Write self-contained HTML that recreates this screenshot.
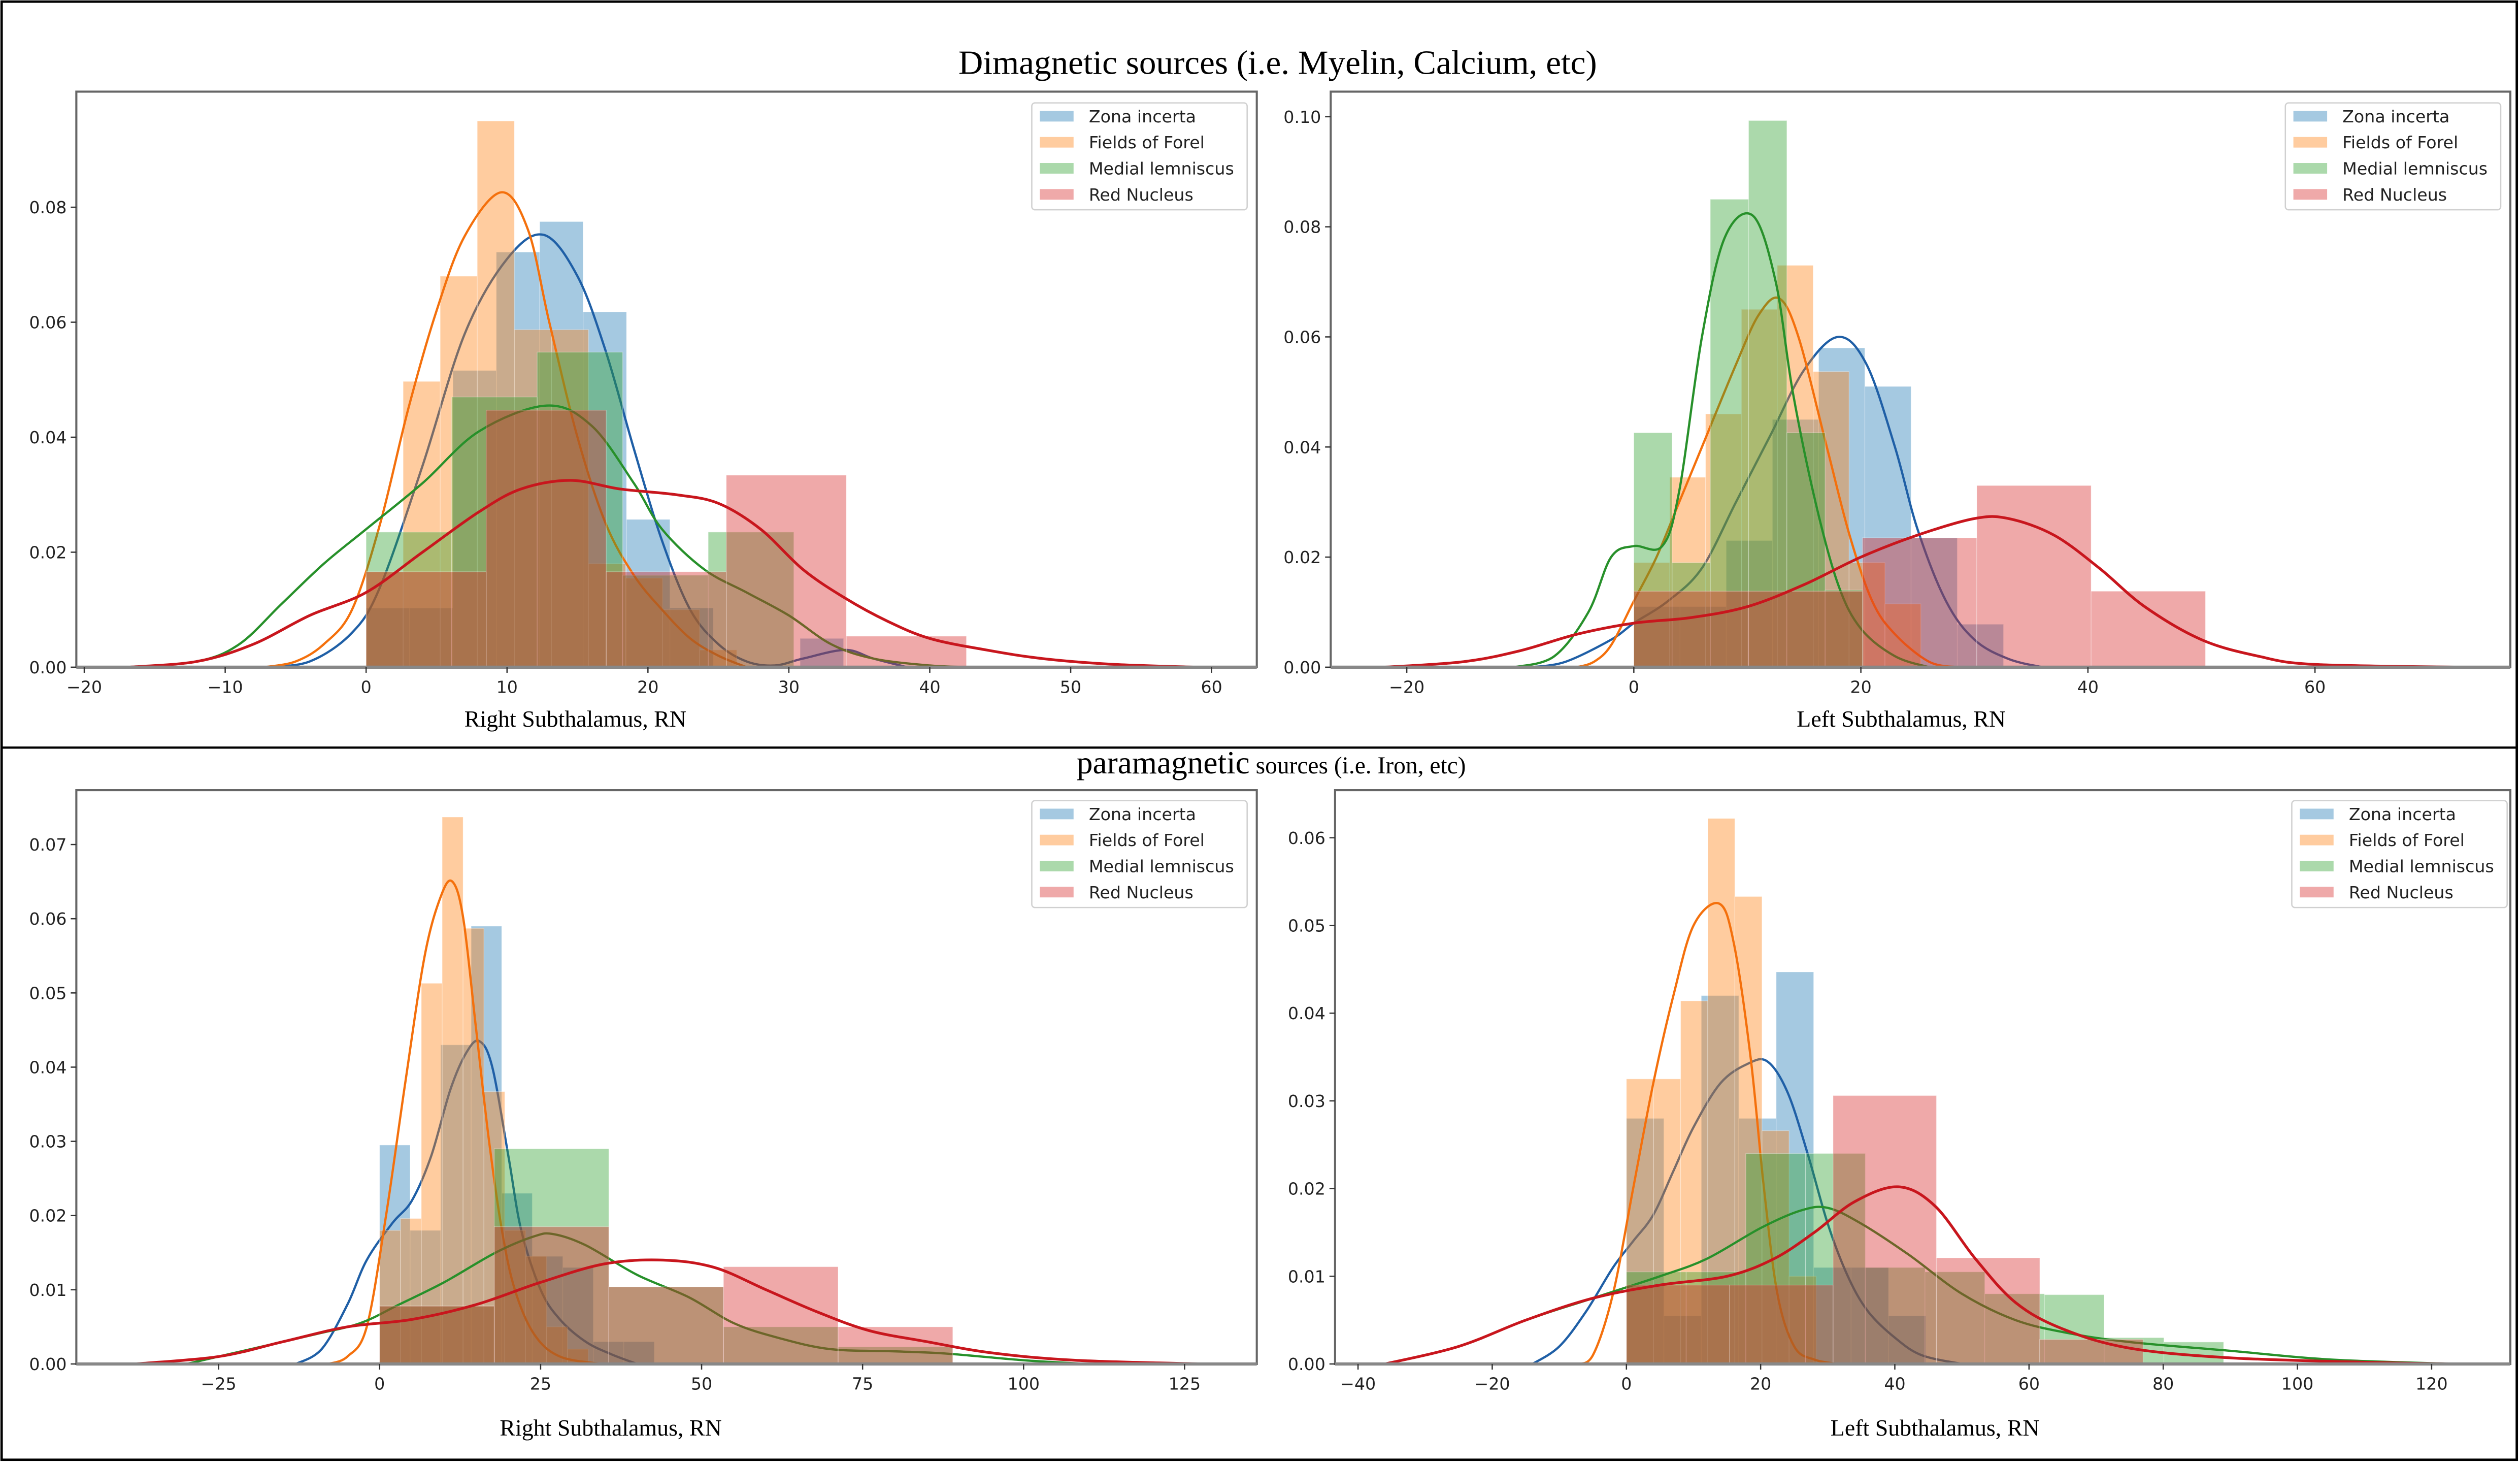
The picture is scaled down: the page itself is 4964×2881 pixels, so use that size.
<!DOCTYPE html>
<html><head><meta charset="utf-8"><title>Subthalamus susceptibility histograms</title>
<style>
html,body{margin:0;padding:0;background:#fff;}
svg{display:block;}
.tick{font-family:"DejaVu Sans","Liberation Sans",sans-serif;font-size:10.5px;fill:#222;}
.leg{font-family:"DejaVu Sans","Liberation Sans",sans-serif;font-size:10.5px;fill:#222;}
.serif{font-family:"Liberation Serif",serif;fill:#000;}
</style></head>
<body>
<svg id="chart" xmlns="http://www.w3.org/2000/svg" width="4964" height="2881" viewBox="0 0 1568 910" preserveAspectRatio="none">
<rect x="0" y="0" width="1568" height="910" fill="#fff"/>
<rect x="1" y="1" width="1565" height="907" fill="none" stroke="#000" stroke-width="1.5"/>
<line x1="1" y1="465" x2="1566" y2="465" stroke="#000" stroke-width="1.4"/>
<text class="serif" x="795" y="46" font-size="21.2" text-anchor="middle">Dimagnetic sources (i.e. Myelin, Calcium, etc)</text>
<text class="serif" x="791" y="481" text-anchor="middle"><tspan font-size="20">paramagnetic</tspan><tspan font-size="15"> sources (i.e. Iron, etc)</tspan></text>
<g id="panels"></g>
</svg>
<script>
// ---------- Data ----------
const seriesNames = ["Zona incerta", "Fields of Forel", "Medial lemniscus", "Red Nucleus"];

// Panel 1: Right Subthalamus, RN (dimagnetic)
const p1BinStart = [0, 0, 0, 0];
const p1BinWidth = [3.08, 2.63, 6.07, 8.52];
const p1BlueHeights = [0.0103, 0.0103, 0.0516, 0.0722, 0.0775, 0.0618, 0.0257, 0.0103, 0, 0, 0.005];
const p1OrangeHeights = [0.0166, 0.0497, 0.068, 0.095, 0.0587, 0.0587, 0.018, 0.0155, 0.01, 0.003];
const p1GreenHeights = [0.0235, 0.047, 0.0548, 0.016, 0.0235];
const p1RedHeights = [0.0166, 0.0447, 0.0166, 0.0334, 0.0054];
const p1BlueKdeX = [-7.2, -4, -1, 1, 4, 7, 10, 12.6, 15, 17, 19, 21, 23, 25, 27, 29, 31, 34, 36, 38.4];
const p1BlueKdeY = [0, 0.001, 0.006, 0.014, 0.035, 0.058, 0.071, 0.0752, 0.068, 0.055, 0.038, 0.022, 0.01, 0.004, 0.001, 0.0003, 0.0015, 0.003, 0.0015, 0];
const p1OrangeKdeX = [-7.2, -5, -3, -1, 1, 3, 5, 7, 9.6, 11.5, 13, 15, 17, 19, 21, 23, 25, 27];
const p1OrangeKdeY = [0, 0.001, 0.004, 0.01, 0.025, 0.045, 0.062, 0.075, 0.0826, 0.076, 0.06, 0.04, 0.025, 0.016, 0.01, 0.005, 0.002, 0];
const p1GreenKdeX = [-16.9, -12, -9, -6, -3, 0, 4, 8, 12.8, 16, 19, 21, 24, 27, 30, 33, 36, 40, 43];
const p1GreenKdeY = [0, 0.001, 0.004, 0.011, 0.018, 0.024, 0.032, 0.041, 0.0455, 0.042, 0.032, 0.024, 0.017, 0.013, 0.009, 0.004, 0.0015, 0.0003, 0];
const p1RedKdeX = [-16.9, -12, -8, -4, 0, 4, 8, 11, 14.5, 18, 22, 25, 28, 31, 34, 37, 40, 44, 48, 53, 59];
const p1RedKdeY = [0, 0.001, 0.004, 0.009, 0.013, 0.02, 0.027, 0.031, 0.0325, 0.031, 0.03, 0.0285, 0.024, 0.017, 0.012, 0.008, 0.005, 0.003, 0.0015, 0.0005, 0];
const p1XTicks = [-20, -10, 0, 10, 20, 30, 40, 50, 60];
const p1YTicks = [0, 0.02, 0.04, 0.06, 0.08];
const p1YTickLabels = ["0.00", "0.02", "0.04", "0.06", "0.08"];

// Panel 2: Left Subthalamus, RN (dimagnetic)
const p2BinStart = [0, 0, 0, 0];
const p2BinWidth = [4.07, 3.16, 3.37, 10.07];
const p2BlueHeights = [0.011, 0.011, 0.023, 0.045, 0.058, 0.051, 0.0235, 0.0078];
const p2OrangeHeights = [0.019, 0.0345, 0.046, 0.065, 0.073, 0.0537, 0.019, 0.0115];
const p2GreenHeights = [0.0426, 0.019, 0.085, 0.0993, 0.0426, 0.014];
const p2RedHeights = [0.0138, 0.0138, 0.0235, 0.033, 0.0138];
const p2BlueKdeX = [-9, -6, -2, 0, 3, 6, 9, 12, 15, 18, 20.5, 23, 25, 27.5, 30, 33, 36];
const p2BlueKdeY = [0, 0.001, 0.005, 0.008, 0.012, 0.018, 0.03, 0.042, 0.054, 0.06, 0.055, 0.04, 0.025, 0.012, 0.005, 0.0015, 0];
const p2OrangeKdeX = [-5, -3.5, -2, 0, 2, 4, 6, 9, 11, 12.8, 14.5, 17, 19, 21, 23, 26, 28.5];
const p2OrangeKdeY = [0, 0.001, 0.004, 0.012, 0.02, 0.03, 0.04, 0.055, 0.064, 0.067, 0.06, 0.04, 0.024, 0.012, 0.006, 0.001, 0];
const p2GreenKdeX = [-10.5, -7, -4, -2, 0, 2.5, 4, 6, 8, 10.5, 12.5, 14, 16, 18, 20, 23, 26];
const p2GreenKdeY = [0, 0.002, 0.01, 0.02, 0.022, 0.022, 0.032, 0.06, 0.078, 0.082, 0.07, 0.05, 0.03, 0.015, 0.007, 0.002, 0];
const p2RedKdeX = [-22, -15, -10, -5, 0, 5, 10, 15, 20, 25, 30, 33, 37, 41, 45, 50, 55, 60, 73];
const p2RedKdeY = [0, 0.001, 0.003, 0.006, 0.008, 0.009, 0.011, 0.015, 0.02, 0.024, 0.027, 0.027, 0.024, 0.018, 0.011, 0.005, 0.002, 0.0005, 0];
const p2XTicks = [-20, 0, 20, 40, 60];
const p2YTicks = [0, 0.02, 0.04, 0.06, 0.08, 0.10];
const p2YTickLabels = ["0.00", "0.02", "0.04", "0.06", "0.08", "0.10"];

// Panel 3: Right Subthalamus, RN (paramagnetic)
const p3BinStart = [0, 0, 0, 0];
const p3BinWidth = [4.74, 3.24, 17.8, 17.8];
const p3BlueHeights = [0.0295, 0.018, 0.043, 0.059, 0.023, 0.0145, 0.013, 0.003, 0.003];
const p3OrangeHeights = [0.018, 0.0196, 0.0513, 0.0737, 0.0587, 0.0367, 0.018, 0.0145, 0.005, 0.002];
const p3GreenHeights = [0.0078, 0.029, 0.0104, 0.005, 0.0023];
const p3RedHeights = [0.0078, 0.0185, 0.0104, 0.0131, 0.005];
const p3BlueKdeX = [-13, -9, -5, -2, 2, 5, 8, 11, 13.5, 15.5, 17.5, 20, 22, 25, 28, 32, 36, 40];
const p3BlueKdeY = [0, 0.002, 0.008, 0.014, 0.019, 0.022, 0.028, 0.037, 0.042, 0.0435, 0.04, 0.028, 0.018, 0.01, 0.006, 0.003, 0.0013, 0];
const p3OrangeKdeX = [-8, -5, -2, 1, 4, 7, 9.5, 11.3, 13, 15, 17, 19, 21, 24, 28, 34.5];
const p3OrangeKdeY = [0, 0.001, 0.005, 0.02, 0.038, 0.055, 0.063, 0.065, 0.06, 0.045, 0.03, 0.018, 0.01, 0.004, 0.001, 0];
const p3GreenKdeX = [-30, -20, -10, -3, 3, 10, 18, 24, 27, 32, 40, 48, 55, 62, 70, 80, 88, 100, 110];
const p3GreenKdeY = [0, 0.002, 0.004, 0.0055, 0.008, 0.011, 0.015, 0.0172, 0.0175, 0.016, 0.012, 0.009, 0.0055, 0.0035, 0.002, 0.0017, 0.0014, 0.0005, 0];
const p3RedKdeX = [-38, -25, -15, -5, 5, 15, 25, 35, 44, 52, 60, 68, 76, 85, 95, 108, 128];
const p3RedKdeY = [0, 0.001, 0.003, 0.005, 0.006, 0.008, 0.011, 0.0135, 0.014, 0.013, 0.01, 0.007, 0.0045, 0.003, 0.0015, 0.0005, 0];
const p3XTicks = [-25, 0, 25, 50, 75, 100, 125];
const p3YTicks = [0, 0.01, 0.02, 0.03, 0.04, 0.05, 0.06, 0.07];
const p3YTickLabels = ["0.00", "0.01", "0.02", "0.03", "0.04", "0.05", "0.06", "0.07"];

// Panel 4: Left Subthalamus, RN (paramagnetic)
const p4BinStart = [0, 0, 0, 0];
const p4BinWidth = [5.58, 4.04, 8.9, 15.4];
const p4BlueHeights = [0.028, 0.0055, 0.042, 0.028, 0.0447, 0.011, 0.011, 0.0055];
const p4OrangeHeights = [0.0325, 0.0325, 0.0414, 0.0622, 0.0533, 0.0266, 0.01];
const p4GreenHeights = [0.0105, 0.0105, 0.024, 0.024, 0.011, 0.0105, 0.008, 0.0079, 0.003, 0.0025];
const p4RedHeights = [0.009, 0.009, 0.0306, 0.0121, 0.0028];
const p4BlueKdeX = [-14, -10, -6, -2, 1, 4, 7, 10, 14, 18, 21, 24, 27, 30, 33, 36, 40, 44, 50];
const p4BlueKdeY = [0, 0.002, 0.006, 0.011, 0.014, 0.017, 0.022, 0.027, 0.032, 0.0342, 0.0345, 0.031, 0.024, 0.016, 0.01, 0.006, 0.003, 0.001, 0];
const p4OrangeKdeX = [-7.5, -5, -2, 1, 4, 7, 10, 13.8, 16, 18.5, 20.5, 22.5, 25, 28, 31.6];
const p4OrangeKdeY = [0, 0.001, 0.008, 0.02, 0.032, 0.042, 0.05, 0.0525, 0.048, 0.035, 0.02, 0.008, 0.002, 0.0005, 0];
const p4GreenKdeX = [-36, -25, -15, -5, 5, 12, 20, 26, 30, 35, 42, 50, 58, 66, 75, 90, 105, 124];
const p4GreenKdeY = [0, 0.002, 0.005, 0.0075, 0.01, 0.012, 0.0155, 0.0175, 0.0178, 0.016, 0.0125, 0.008, 0.005, 0.0035, 0.0025, 0.0015, 0.0005, 0];
const p4RedKdeX = [-36, -25, -15, -5, 5, 15, 22, 28, 34, 40.5, 46, 52, 58, 65, 75, 90, 110, 124];
const p4RedKdeY = [0, 0.002, 0.005, 0.0075, 0.009, 0.01, 0.012, 0.015, 0.0185, 0.0202, 0.018, 0.012, 0.007, 0.004, 0.0018, 0.0007, 0.0002, 0];
const p4XTicks = [-40, -20, 0, 20, 40, 60, 80, 100, 120];
const p4YTicks = [0, 0.01, 0.02, 0.03, 0.04, 0.05, 0.06];
const p4YTickLabels = ["0.00", "0.01", "0.02", "0.03", "0.04", "0.05", "0.06"];

// ---------- Rendering ----------
const NS = "http://www.w3.org/2000/svg";
const colors = ["#1f77b4", "#ff7f0e", "#2ca02c", "#d62728"];
const lineColors = ["#1f5fa6", "#f4700c", "#27902a", "#c8161d"];
const root = document.getElementById("panels");

function mk(tag, attrs, parent) {
  const e = document.createElementNS(NS, tag);
  for (const k in attrs) e.setAttribute(k, attrs[k]);
  parent.appendChild(e);
  return e;
}
function smoothPath(pts) {
  let d = "M" + pts[0][0].toFixed(2) + "," + pts[0][1].toFixed(2);
  for (let i = 0; i < pts.length - 1; i++) {
    const p0 = pts[Math.max(0, i - 1)], p1 = pts[i], p2 = pts[i + 1], p3 = pts[Math.min(pts.length - 1, i + 2)];
    const c1x = p1[0] + (p2[0] - p0[0]) / 6, c1y = p1[1] + (p2[1] - p0[1]) / 6;
    const c2x = p2[0] - (p3[0] - p1[0]) / 6, c2y = p2[1] - (p3[1] - p1[1]) / 6;
    d += " C" + c1x.toFixed(2) + "," + c1y.toFixed(2) + " " + c2x.toFixed(2) + "," + c2y.toFixed(2) + " " + p2[0].toFixed(2) + "," + p2[1].toFixed(2);
  }
  return d;
}

const panels = [
  {id:"p1", box:[47.5,57,782,415], x0:227.8, xs:8.768, yTop:0.08, yTopPx:128.9,
   start:p1BinStart, width:p1BinWidth, heights:[p1BlueHeights,p1OrangeHeights,p1GreenHeights,p1RedHeights],
   kx:[p1BlueKdeX,p1OrangeKdeX,p1GreenKdeX,p1RedKdeX], ky:[p1BlueKdeY,p1OrangeKdeY,p1GreenKdeY,p1RedKdeY],
   xt:p1XTicks, yt:p1YTicks, ytl:p1YTickLabels, label:"Right Subthalamus, RN", lx:358, ly:452, leg:[642,64]},
  {id:"p2", box:[828,57,1562,415], x0:1016.6, xs:7.064, yTop:0.10, yTopPx:72.6,
   start:p2BinStart, width:p2BinWidth, heights:[p2BlueHeights,p2OrangeHeights,p2GreenHeights,p2RedHeights],
   kx:[p2BlueKdeX,p2OrangeKdeX,p2GreenKdeX,p2RedKdeX], ky:[p2BlueKdeY,p2OrangeKdeY,p2GreenKdeY,p2RedKdeY],
   xt:p2XTicks, yt:p2YTicks, ytl:p2YTickLabels, label:"Left Subthalamus, RN", lx:1183, ly:452, leg:[1422,64]},
  {id:"p3", box:[47.5,491.5,782,848.4], x0:236.2, xs:4.007, yTop:0.07, yTopPx:525.3,
   start:p3BinStart, width:p3BinWidth, heights:[p3BlueHeights,p3OrangeHeights,p3GreenHeights,p3RedHeights],
   kx:[p3BlueKdeX,p3OrangeKdeX,p3GreenKdeX,p3RedKdeX], ky:[p3BlueKdeY,p3OrangeKdeY,p3GreenKdeY,p3RedKdeY],
   xt:p3XTicks, yt:p3YTicks, ytl:p3YTickLabels, label:"Right Subthalamus, RN", lx:380, ly:893, leg:[642,498]},
  {id:"p4", box:[830.7,491.5,1562,848.4], x0:1012, xs:4.175, yTop:0.06, yTopPx:521.1,
   start:p4BinStart, width:p4BinWidth, heights:[p4BlueHeights,p4OrangeHeights,p4GreenHeights,p4RedHeights],
   kx:[p4BlueKdeX,p4OrangeKdeX,p4GreenKdeX,p4RedKdeX], ky:[p4BlueKdeY,p4OrangeKdeY,p4GreenKdeY,p4RedKdeY],
   xt:p4XTicks, yt:p4YTicks, ytl:p4YTickLabels, label:"Left Subthalamus, RN", lx:1204, ly:893, leg:[1426,498]}
];
const keys = ["zona-incerta", "fields-of-forel", "medial-lemniscus", "red-nucleus"];

panels.forEach(function (P) {
  const [L, T, R, B] = P.box;
  const xScale = v => P.x0 + v * P.xs;
  const yScale = v => B - v * (B - P.yTopPx) / P.yTop;
  const g = mk("g", {}, root);
  
  
  const clipId = P.id + "-clip";
  const cp = mk("clipPath", {id: clipId}, g);
  mk("rect", {x: L, y: T, width: R - L, height: B - T}, cp);
  const plot = mk("g", {"clip-path": "url(#" + clipId + ")"}, g);
  
  

  for (let s = 0; s < 4; s++) {
    const hs = P.heights[s];
    for (let i = 0; i < hs.length; i++) {
      if (hs[i] <= 0) continue;
      const a = P.start[s] + i * P.width[s], b = a + P.width[s];
      const r = mk("rect", {x: xScale(a), y: yScale(hs[i]), width: xScale(b) - xScale(a), height: B - yScale(hs[i]),
        fill: colors[s], "fill-opacity": 0.4, stroke: "#fff", "stroke-opacity": 0.35, "stroke-width": 0.4}, plot);
      
      
    }
    const pts = P.kx[s].map((x, i) => [xScale(x), yScale(P.ky[s][i])]);
    const path = mk("path", {d: smoothPath(pts), fill: "none", stroke: lineColors[s], "stroke-width": s === 3 ? 1.7 : 1.4}, plot);
    
    
  }

  const frame = mk("rect", {x: L, y: T, width: R - L, height: B - T, fill: "none", stroke: "#666", "stroke-width": 1.3}, g);
  
  
  const xb = mk("line", {x1: L, y1: B, x2: R, y2: B, stroke: "#888", "stroke-width": 2}, g);
  
  

  P.xt.forEach(function (v) {
    const x = xScale(v);
    const tl = mk("line", {x1: x, y1: B, x2: x, y2: B + 3.5, stroke: "#333", "stroke-width": 0.8}, g);
    
    
    const t = mk("text", {x: x, y: B + 16, "text-anchor": "middle", class: "tick"}, g);
    t.textContent = v < 0 ? "\u2212" + Math.abs(v) : String(v);
    
    
  });
  P.yt.forEach(function (v, i) {
    const y = yScale(v);
    const tl = mk("line", {x1: L - 3.5, y1: y, x2: L, y2: y, stroke: "#333", "stroke-width": 0.8}, g);
    
    
    const t = mk("text", {x: L - 6, y: y + 3.8, "text-anchor": "end", class: "tick"}, g);
    t.textContent = P.ytl[i];
    
    
  });
  const xl = mk("text", {x: P.lx, y: P.ly, "text-anchor": "middle", class: "serif", "font-size": 14.5}, g);
  xl.textContent = P.label;
  
  

  const [lx, ly] = P.leg;
  const lg = mk("g", {}, g);
  
  
  mk("rect", {x: lx, y: ly, width: 134, height: 66.5, rx: 2, fill: "#fff", "fill-opacity": 0.85, stroke: "#d0d0d0", "stroke-width": 0.8}, lg);
  for (let s = 0; s < 4; s++) {
    const cy = ly + 8.3 + s * 16.2;
    const e = mk("g", {}, lg);
    
    
    mk("rect", {x: lx + 5, y: cy - 3.3, width: 21, height: 6.6, fill: colors[s], "fill-opacity": 0.4}, e);
    const t = mk("text", {x: lx + 35.5, y: cy + 3.8, class: "leg"}, e);
    t.textContent = seriesNames[s];
  }
});
</script>
</body></html>
